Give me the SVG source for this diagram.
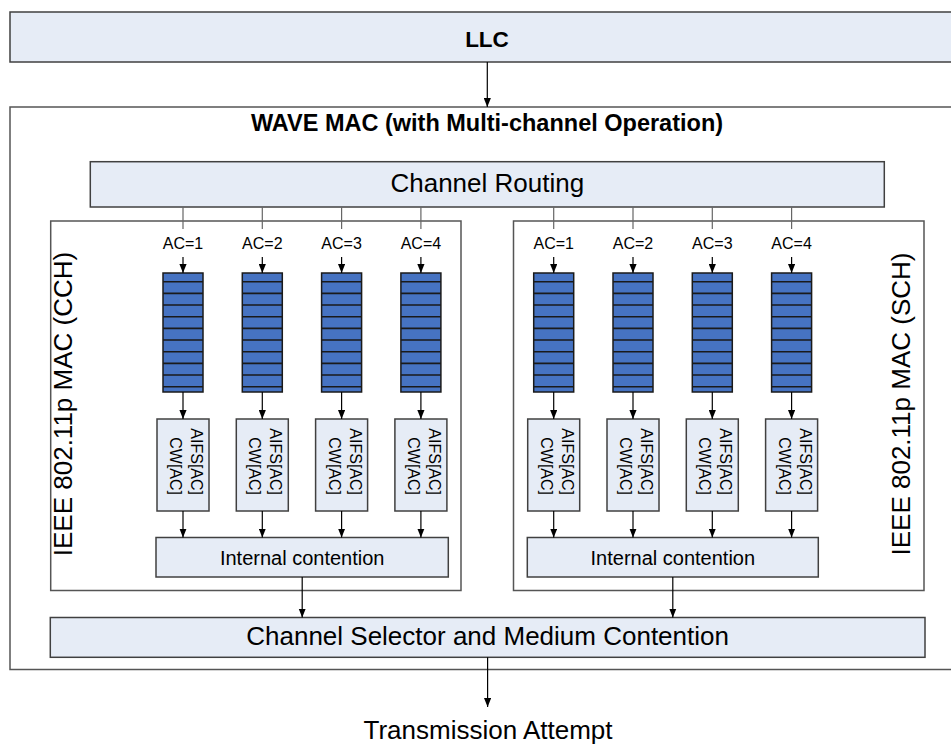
<svg xmlns="http://www.w3.org/2000/svg" xmlns:xlink="http://www.w3.org/1999/xlink" width="951" height="747" viewBox="0 0 951 747">
<style>
text{font-family:"Liberation Sans",Arial,sans-serif;fill:#000}
.box{fill:#E6ECF6;stroke:#404040;stroke-width:1.5}
.frame{fill:#fff;stroke:#555;stroke-width:1.5}
.q{fill:#4673C2;stroke:#1a1a1a;stroke-width:1.5}
.ql{stroke:#1a1a1a;stroke-width:1.6}
.c{stroke:#000;stroke-width:1.2;fill:none}
.g{stroke:#666;stroke-width:1.2;fill:none}
.big{font-size:26px}
.t16{font-size:16px}
</style>
<defs>
<marker id="ah" viewBox="0 0 10 8" refX="10" refY="4" markerWidth="9" markerHeight="7.5" markerUnits="userSpaceOnUse" orient="auto">
<path d="M0,0 L10,4 L0,8 z" fill="#000"/>
</marker>
<g id="queue">
<rect class="q" x="-20" y="273" width="40" height="119"/>
<path class="ql" d="M-20,281.7H20M-20,293.4H20M-20,305H20M-20,316.7H20M-20,328.4H20M-20,340H20M-20,351.7H20M-20,363.4H20M-20,375H20M-20,386.7H20"/>
</g>
<g id="aifs">
<rect class="box" x="-26" y="419" width="52" height="92"/>
<g transform="translate(8,495) rotate(90)">
<text class="t16" x="0" y="0" text-anchor="end">AIFS[AC]</text>
<text class="t16" x="0" y="21" text-anchor="end">CW[AC]</text>
</g>
</g>
</defs>

<g id="llc">
<rect class="box" x="10" y="12" width="960" height="50"/>
<text x="487" y="46.5" text-anchor="middle" font-size="22.5" font-weight="bold">LLC</text>
</g>

<g id="wave-mac">
<rect class="frame" x="10" y="107" width="960" height="562.5"/>
<text x="487" y="131" text-anchor="middle" font-size="23.5" font-weight="bold">WAVE MAC (with Multi-channel Operation)</text>
</g>

<g id="channel-routing">
<rect class="box" x="90.3" y="161.7" width="794" height="45.3"/>
<text class="big" x="487.3" y="192.3" text-anchor="middle">Channel Routing</text>
</g>

<g id="cch-mac">
<rect class="frame" x="50.7" y="221" width="410.3" height="369.5"/>
<text class="big" transform="translate(72,404) rotate(-90)" text-anchor="middle">IEEE 802.11p MAC (CCH)</text>
</g>

<g id="sch-mac">
<rect class="frame" x="513.5" y="221" width="410.5" height="369.5"/>
<text class="big" transform="translate(909.5,404) rotate(-90)" text-anchor="middle">IEEE 802.11p MAC (SCH)</text>
</g>

<g id="cch-ac-labels">
<text x="183" y="249" text-anchor="middle" font-size="16">AC=1</text>
<text x="262.3" y="249" text-anchor="middle" font-size="16">AC=2</text>
<text x="341.6" y="249" text-anchor="middle" font-size="16">AC=3</text>
<text x="420.9" y="249" text-anchor="middle" font-size="16">AC=4</text>
</g>
<g id="sch-ac-labels">
<text x="553.7" y="249" text-anchor="middle" font-size="16">AC=1</text>
<text x="633" y="249" text-anchor="middle" font-size="16">AC=2</text>
<text x="712.3" y="249" text-anchor="middle" font-size="16">AC=3</text>
<text x="791.6" y="249" text-anchor="middle" font-size="16">AC=4</text>
</g>

<g id="cch-queue-1"><use xlink:href="#queue" x="183"/></g>
<g id="cch-queue-2"><use xlink:href="#queue" x="262.3"/></g>
<g id="cch-queue-3"><use xlink:href="#queue" x="341.6"/></g>
<g id="cch-queue-4"><use xlink:href="#queue" x="420.9"/></g>
<g id="sch-queue-1"><use xlink:href="#queue" x="553.7"/></g>
<g id="sch-queue-2"><use xlink:href="#queue" x="633"/></g>
<g id="sch-queue-3"><use xlink:href="#queue" x="712.3"/></g>
<g id="sch-queue-4"><use xlink:href="#queue" x="791.6"/></g>

<g id="cch-aifs-1"><use xlink:href="#aifs" x="183"/></g>
<g id="cch-aifs-2"><use xlink:href="#aifs" x="262.3"/></g>
<g id="cch-aifs-3"><use xlink:href="#aifs" x="341.6"/></g>
<g id="cch-aifs-4"><use xlink:href="#aifs" x="420.9"/></g>
<g id="sch-aifs-1"><use xlink:href="#aifs" x="553.7"/></g>
<g id="sch-aifs-2"><use xlink:href="#aifs" x="633"/></g>
<g id="sch-aifs-3"><use xlink:href="#aifs" x="712.3"/></g>
<g id="sch-aifs-4"><use xlink:href="#aifs" x="791.6"/></g>

<g id="cch-internal">
<rect class="box" x="156" y="537.5" width="292.3" height="39.5"/>
<text x="302.2" y="564.5" text-anchor="middle" font-size="20">Internal contention</text>
</g>
<g id="sch-internal">
<rect class="box" x="527.3" y="537.5" width="291" height="39.5"/>
<text x="672.8" y="564.5" text-anchor="middle" font-size="20">Internal contention</text>
</g>

<g id="channel-selector">
<rect class="box" x="50.3" y="617.5" width="874.7" height="39.8"/>
<text class="big" x="487.6" y="645" text-anchor="middle">Channel Selector and Medium Contention</text>
</g>

<g id="transmission-attempt">
<text class="big" x="488" y="739" text-anchor="middle">Transmission Attempt</text>
</g>

<g id="connectors">
<path class="c" marker-end="url(#ah)" d="M487.3,62V107"/>
<path class="g" d="M183,207V229M262.3,207V229M341.6,207V229M420.9,207V229M553.7,207V229M633,207V229M712.3,207V229M791.6,207V229"/>
<g class="c" marker-end="url(#ah)">
<path d="M183,257V273"/><path d="M262.3,257V273"/><path d="M341.6,257V273"/><path d="M420.9,257V273"/>
<path d="M553.7,257V273"/><path d="M633,257V273"/><path d="M712.3,257V273"/><path d="M791.6,257V273"/>
<path d="M183,392V419"/><path d="M262.3,392V419"/><path d="M341.6,392V419"/><path d="M420.9,392V419"/>
<path d="M553.7,392V419"/><path d="M633,392V419"/><path d="M712.3,392V419"/><path d="M791.6,392V419"/>
<path d="M183,511V537.5"/><path d="M262.3,511V537.5"/><path d="M341.6,511V537.5"/><path d="M420.9,511V537.5"/>
<path d="M553.7,511V537.5"/><path d="M633,511V537.5"/><path d="M712.3,511V537.5"/><path d="M791.6,511V537.5"/>
<path d="M302.2,577V617.5"/><path d="M672.8,577V617.5"/>
<path d="M487.6,657.3V707"/>
</g>
</g>
</svg>
